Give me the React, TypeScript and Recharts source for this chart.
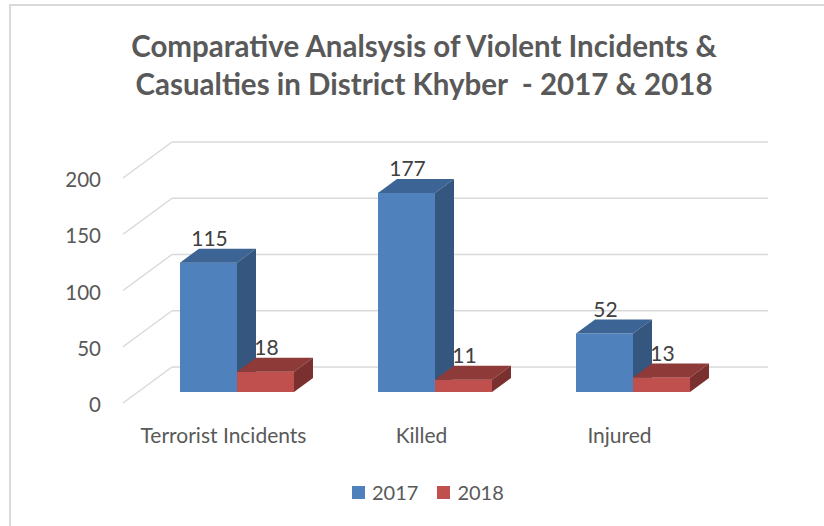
import React from 'react';
import { BarChart, Bar, XAxis, YAxis, CartesianGrid, Legend, LabelList } from 'recharts';

const categories = ['Terrorist Incidents', 'Killed', 'Injured'];
const values2017 = [115, 177, 52];
const values2018 = [18, 11, 13];
const yTicks = [0, 50, 100, 150, 200];

const data = categories.map((name, i) => ({ name, y2017: values2017[i], y2018: values2018[i] }));

const FONT = 'Lato, "Open Sans", sans-serif';
const DX = 19;
const DY = -14;

const BLUE = { front: '#4F81BD', top: '#3C6596', side: '#34567F' };
const RED = { front: '#C0504D', top: '#8E3A38', side: '#7A302E' };

function Box3D(props: any) {
  const { x, y, width: w, height: h, colors } = props;
  if (w == null || h == null) return null;
  return (
    <g>
      <rect x={x} y={y} width={w} height={h} fill={colors.front} />
      <polygon
        points={`${x},${y} ${x + DX},${y + DY} ${x + w + DX},${y + DY} ${x + w},${y}`}
        fill={colors.top}
      />
      <polygon
        points={`${x + w},${y} ${x + w + DX},${y + DY} ${x + w + DX},${y + h + DY} ${x + w},${y + h}`}
        fill={colors.side}
      />
    </g>
  );
}

function valueLabel(p: any) {
  return (
    <text
      x={p.x + p.width / 2 + 1}
      y={p.y - 25}
      textAnchor="middle"
      dominantBaseline="central"
      fontFamily={FONT}
      fontSize={21}
      fill="#404040"
    >
      {p.value}
    </text>
  );
}

// perspective gridline: slanted wall segment + back-wall horizontal
function gridLine(p: any) {
  const y = p.y1;
  return (
    <g key={`grid-${y}`}>
      <line x1={p.x1 - 15} y1={y + 11} x2={p.x1 + 34} y2={y - 25} stroke="#D9D9D9" strokeWidth={1.5} />
      <line x1={p.x1 + 34} y1={y - 25} x2={p.x2 + 36} y2={y - 25} stroke="#D9D9D9" strokeWidth={1.5} />
    </g>
  );
}

function yTick(p: any) {
  return (
    <text
      x={101}
      y={p.y + 12}
      textAnchor="end"
      dominantBaseline="central"
      fontFamily={FONT}
      fontSize={20.5}
      fill="#595959"
    >
      {p.payload.value}
    </text>
  );
}

function xTick(p: any) {
  return (
    <text
      x={p.x - 13.5}
      y={p.y + 34}
      textAnchor="middle"
      dominantBaseline="central"
      fontFamily={FONT}
      fontSize={21}
      fill="#595959"
    >
      {p.payload.value}
    </text>
  );
}

function legendContent() {
  const items = [
    { label: '2017', color: BLUE.front },
    { label: '2018', color: RED.front },
  ];
  return (
    <div style={{ display: 'flex', alignItems: 'center', paddingLeft: 352, height: 26 }}>
      {items.map((it) => (
        <div key={it.label} style={{ display: 'flex', alignItems: 'center', marginRight: 19 }}>
          <span style={{ width: 13, height: 13, background: it.color, display: 'inline-block', marginRight: 7 }} />
          <span style={{ fontFamily: FONT, fontSize: 20, color: '#595959' }}>{it.label}</span>
        </div>
      ))}
    </div>
  );
}

export default function App() {
  return (
    <div style={{ position: 'relative', width: 824, height: 526, overflow: 'hidden', background: '#fff' }}>
      <style>{'body{margin:0}'}</style>
      <div
        style={{
          position: 'absolute',
          left: 9,
          top: 4,
          width: 840,
          height: 540,
          border: '2px solid #D9D9D9',
          boxSizing: 'border-box',
        }}
      />
      <div
        style={{
          position: 'absolute',
          left: 0,
          top: 27,
          width: 848,
          textAlign: 'center',
          fontFamily: FONT,
          fontWeight: 700,
          fontSize: 29.5,
          lineHeight: '38px',
          color: '#595959',
          whiteSpace: 'pre',
        }}
      >
        {'Comparative Analsysis of Violent Incidents &\nCasualties in District Khyber  - 2017 & 2018'}
      </div>
      <div style={{ position: 'absolute', left: 0, top: 0 }}>
        <BarChart
          width={824}
          height={526}
          data={data}
          margin={{ top: 167, right: 92, bottom: 78, left: 0 }}
          barGap={0}
          barSize={57}
        >
          <CartesianGrid vertical={false} horizontal={gridLine} />
          <XAxis dataKey="name" height={30} axisLine={false} tickLine={false} tick={xTick} interval={0} />
          <YAxis
            width={138}
            domain={[0, 200]}
            ticks={yTicks}
            axisLine={false}
            tickLine={false}
            tick={yTick}
          />
          <Legend
            verticalAlign="bottom"
            height={26}
            content={legendContent}
            wrapperStyle={{ top: 479, bottom: 'auto', left: 0, width: 824 }}
          />
          <Bar
            dataKey="y2017"
            name="2017"
            isAnimationActive={false}
            shape={(p: any) => <Box3D {...p} colors={BLUE} />}
          >
            <LabelList dataKey="y2017" content={valueLabel} />
          </Bar>
          <Bar
            dataKey="y2018"
            name="2018"
            isAnimationActive={false}
            shape={(p: any) => <Box3D {...p} colors={RED} />}
          >
            <LabelList dataKey="y2018" content={valueLabel} />
          </Bar>
        </BarChart>
      </div>
    </div>
  );
}
